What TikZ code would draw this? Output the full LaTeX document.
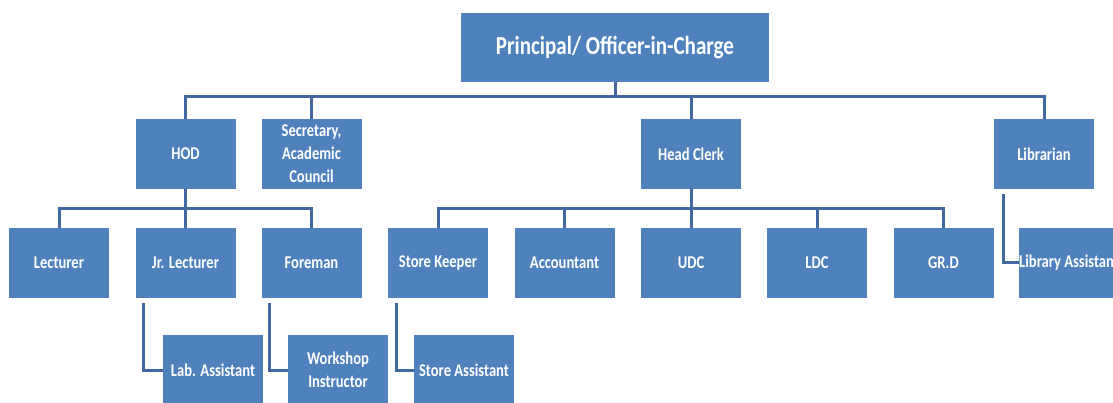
\documentclass[tikz,border=0pt]{standalone}
\usepackage{fontspec}
\setmainfont{Carlito}[FakeStretch=0.81]
\definecolor{boxblue}{RGB}{79,129,189}
\definecolor{lineblue}{RGB}{65,105,160}
\begin{document}
\begin{tikzpicture}[x=1pt,y=-1pt,
  box/.style={rectangle,fill=boxblue,draw=none,minimum width=100pt,minimum height=70pt,inner sep=0pt,
    text=white,align=center,font=\fontsize{18}{23}\selectfont\bfseries},
  conn/.style={draw=lineblue,line width=3pt,line join=miter}]
\useasboundingbox (0,0) rectangle (1113,403);
\begin{scope}
\clip (0,0) rectangle (1113,403);
% top
\node[box,minimum width=308pt,minimum height=69pt,font=\fontsize{26}{30}\selectfont\bfseries] (prin) at (615,47.5) {Principal/ Officer-in-Charge};
% row 1
\node[box] (hod) at (185.5,154) {HOD};
\node[box] (sec) at (311.5,154) {Secretary,\\Academic\\Council};
\node[box] (hc) at (691,154) {Head Clerk};
\node[box] (lib) at (1044,154) {Librarian};
% row 2
\node[box] (lect) at (59,263) {Lecturer};
\node[box] (jr) at (185.5,263) {Jr. Lecturer};
\node[box] (fore) at (311.5,263) {Foreman};
\node[box] (sk) at (438,263) {Store Keeper};
\node[box] (acc) at (564.5,263) {Accountant};
\node[box] (udc) at (691,263) {UDC};
\node[box] (ldc) at (817,263) {LDC};
\node[box] (grd) at (943.5,263) {GR.D};
\node[box] (la) at (1069,263) {Library Assistant};
% row 3
\node[box] (lab) at (213,370) {Lab. Assistant};
\node[box] (ws) at (338,370) {Workshop\\Instructor};
\node[box] (sa) at (464,370) {Store Assistant};
% buses
\coordinate (busA) at (0,97);
\coordinate (busB) at (0,209);
\draw[conn] (prin.south) -- (prin.south |- busA);
\draw[conn] (hod.north) -- (hod.north |- busA) -- (lib.north |- busA) -- (lib.north);
\draw[conn] (sec.north) -- (sec.north |- busA);
\draw[conn] (hc.north) -- (hc.north |- busA);
% HOD
\draw[conn] (hod.south) -- (hod.south |- busB);
\draw[conn] (lect.north) -- (lect.north |- busB) -- (fore.north |- busB) -- (fore.north);
\draw[conn] (jr.north) -- (jr.north |- busB);
% Head clerk
\draw[conn] (hc.south) -- (hc.south |- busB);
\draw[conn] (sk.north) -- (sk.north |- busB) -- (grd.north |- busB) -- (grd.north);
\draw[conn] (acc.north) -- (acc.north |- busB);
\draw[conn] (udc.north) -- (udc.north |- busB);
\draw[conn] (ldc.north) -- (ldc.north |- busB);
% elbows
\draw[conn] ([xshift=-42pt,yshift=-5pt]jr.south) |- (lab.west);
\draw[conn] ([xshift=-42pt,yshift=-5pt]fore.south) |- (ws.west);
\draw[conn] ([xshift=-42pt,yshift=-5pt]sk.south) |- (sa.west);
\draw[conn] ([xshift=-41pt,yshift=-5pt]lib.south) |- (la.west);
\end{scope}
\end{tikzpicture}
\end{document}
